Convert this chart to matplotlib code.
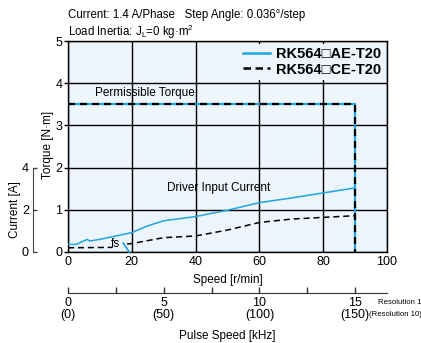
import matplotlib
matplotlib.use("Agg")
import matplotlib.pyplot as plt
from matplotlib.ticker import FixedLocator

plt.rcParams['font.family'] = ['Liberation Sans', 'DejaVu Sans']
plt.rcParams['font.size'] = 8.5

# Axis settings
speed_ticks = [0, 20, 40, 60, 80, 100]
torque_ticks = [0, 1, 2, 3, 4, 5]
current_ticks = [0, 2, 4]
pulse_ticks = [0, 5, 10, 15]
pulse_minor = [2.5, 7.5, 12.5]
pulse_labels = ["0\n(0)", "5\n(50)", "10\n(100)", "15\n(150)"]

# Permissible torque envelope [r/min], [N·m]
perm_speed = [0, 90, 90]
perm_torque = [3.5, 3.5, 0]

# Driver input current, RK564□AE-T20 [r/min], [A]
ae_speed = [0, 2.6, 6, 6.8, 10, 20, 25, 30, 40, 50, 60, 70, 80, 90]
ae_current = [0.36, 0.36, 0.60, 0.52, 0.60, 0.92, 1.24, 1.48, 1.68, 1.98,
              2.34, 2.56, 2.80, 3.04]

# Driver input current, RK564□CE-T20 (split around the fs mark)
ce_speed_a = [0, 14]
ce_current_a = [0.20, 0.22]
ce_speed_b = [18.5, 20, 30, 40, 50, 60, 70, 80, 90]
ce_current_b = [0.38, 0.40, 0.68, 0.76, 1.04, 1.40, 1.56, 1.64, 1.72]

# Starting-frequency mark
fs_speed = [17.3, 19.2]
fs_current = [0.42, 0.0]

legend_labels = ["RK564□AE-T20", "RK564□CE-T20"]

blue = '#1fa5e3'
bg = '#edf4fb'

fig = plt.figure(figsize=(4.21, 3.43), dpi=100)
pos = [68 / 421, 1 - 252 / 343, 319 / 421, 211 / 343]
ax = fig.add_axes(pos)
ax.set_facecolor(bg)
ax.set_xlim(0, 100)
ax.set_ylim(0, 5)
ax.set_xticks(speed_ticks)
ax.set_yticks(torque_ticks)
ax.grid(True, color='black', linewidth=1.0)
ax.set_axisbelow(True)
for s in ax.spines.values():
    s.set_color('black')
    s.set_linewidth(1.0)
ax.tick_params(axis='x', length=0, pad=3, labelsize=9)
ax.tick_params(axis='y', length=3, width=1, pad=1, labelsize=9)
ax.set_xlabel("Speed [r/min]")
ax.xaxis.set_label_coords(0.5, -0.105)
ax.set_ylabel("Torque [N·m]")
ax.yaxis.set_label_coords(-0.045, 0.507)

# Permissible torque (both models share the envelope)
ax.plot(perm_speed, perm_torque, color=blue, lw=1.6, zorder=3)
ax.plot(perm_speed, perm_torque, color='black', lw=1.6,
        linestyle=(0, (3.2, 2.2)), zorder=4)

ax.text(8.5, 3.77, "Permissible Torque", ha='left', va='center', fontsize=8.5)
ax.text(31, 1.52, "Driver Input Current", ha='left', va='center', fontsize=8.5)
ax.text(13.3, 0.19, "fs", ha='left', va='center', fontsize=8.5)

# Current axis overlaid on the same box
axc = fig.add_axes(pos)
axc.patch.set_visible(False)
axc.set_xlim(0, 100)
axc.set_ylim(0, 10)
axc.set_xticks([])
for k in ['top', 'right', 'bottom']:
    axc.spines[k].set_visible(False)
axc.spines['left'].set_position(('axes', (33 - 68) / 319))
axc.spines['left'].set_bounds(0, 4)
axc.spines['left'].set_color('#444444')
axc.set_yticks(current_ticks)
axc.tick_params(axis='y', direction='in', length=3, width=1, pad=3,
                labelsize=9, color='#444444')
axc.set_ylabel("Current [A]")
axc.yaxis.set_label_coords(-0.148, 0.2)

axc.plot(ae_speed, ae_current, color=blue, lw=1.1, zorder=3)
axc.plot(ce_speed_a, ce_current_a, color='black', lw=1.1,
         linestyle=(0, (4, 2.5)), zorder=3)
axc.plot(ce_speed_b, ce_current_b, color='black', lw=1.1,
         linestyle=(0, (4, 2.5)), zorder=3)
axc.plot(fs_speed, fs_current, color=blue, lw=1.3, zorder=3,
         clip_on=False)

# Legend handles
h1, = axc.plot([], [], color=blue, lw=1.8)
h2, = axc.plot([], [], color='black', lw=1.8, linestyle=(0, (3, 1.8)))
leg = axc.legend([h1, h2], legend_labels, loc='upper right',
                 bbox_to_anchor=(1.0, 1.0), frameon=True, facecolor=bg,
                 edgecolor='none', framealpha=1.0,
                 prop={'weight': 'bold', 'size': 10.5},
                 handlelength=1.9, handletextpad=0.4, labelspacing=0.12,
                 borderpad=0.2, borderaxespad=0.2, fancybox=False)

# Pulse speed axis: 90 r/min corresponds to 15 kHz
sec = ax.secondary_xaxis((252 - 293) / 211,
                         functions=(lambda v: v * 15.0 / 90.0,
                                    lambda p: p * 90.0 / 15.0))
sec.xaxis.set_major_locator(FixedLocator(pulse_ticks))
sec.xaxis.set_minor_locator(FixedLocator(pulse_minor))
sec.set_xticklabels(pulse_labels, fontsize=9, linespacing=1.0)
sec.tick_params(axis='x', which='both', direction='in', length=4,
                width=1, pad=3, color='#333333')
sec.spines['bottom'].set_color('#333333')
sec.set_xlabel("Pulse Speed [kHz]", labelpad=6)

fig.text(378 / 421, 1 - 303 / 343, "Resolution 1", fontsize=5.6,
         ha='left', va='center')
fig.text(369 / 421, 1 - 314 / 343, "(Resolution 10)", fontsize=5.6,
         ha='left', va='center')

# Header
fig.text(68 / 421, 1 - 15 / 343,
         "Current: 1.4 A/Phase   Step Angle: 0.036°/step",
         fontsize=8.3, ha='left', va='center')
fig.text(68 / 421, 1 - 32 / 343,
         r"Load Inertia: J$_{\mathregular{L}}$=0 kg·m$^{\mathregular{2}}$",
         fontsize=8.3, ha='left', va='center')

fig.savefig("out.png", dpi=100)
